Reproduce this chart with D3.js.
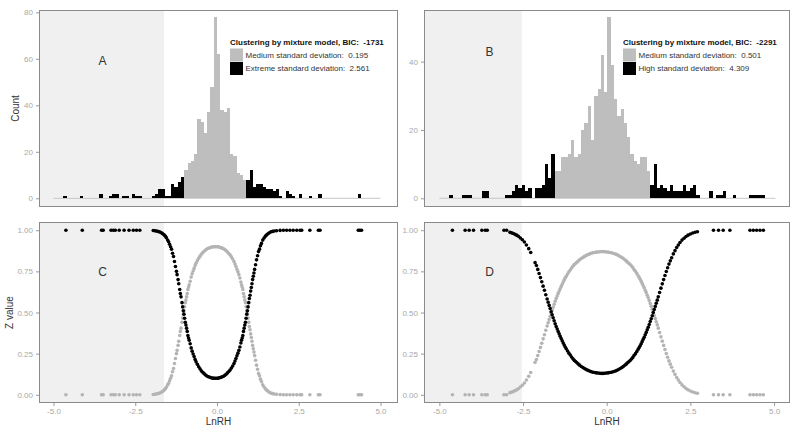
<!DOCTYPE html>
<html><head><meta charset="utf-8">
<script src="https://cdn.jsdelivr.net/npm/d3@7"></script>
<style>
body{margin:0;background:#fff}
svg{display:block}
text{font-family:"Liberation Sans",Arial,Helvetica,sans-serif;white-space:pre}
</style>
</head><body>
<svg id="chart" width="800" height="432"></svg>
<script>
// ---------------- DATA ----------------
// Histogram A (bins of width 0.1 starting at -5.0)
const aBinStart = -5.0, aBinWidth = 0.1;
const aMedium = [
 0,0,0,0,0,0,0,0,0,0, 0,0,0,0,0,0,0,0,0,0, 0,0,0,0,0,0,0,0,0,0, 0,0,0,0,0,0,0,0,0,0,
 12,15,16,19,34,33,28,37,48,78, 62,38,37,39,19,18,11,10,8,0,
 0,0,0,0,0,0,0,0,0,0, 0,0,0,0,0,0,0,0,0,0, 0,0,0,0,0,0,0,0,0,0, 0,0,0,0,0,0,0,0,0,0];
const aExtreme = [
 0,0,0,1,0,0,0,0,1,0, 0,0,0,0,2,0,0,1,2,2, 0,1,1,0,2,1,1,0,0,0, 1,2,4,4,1,1,6,5,7,9,
 0,0,0,0,0,0,0,0,0,0, 0,0,0,0,0,0,0,0,0,8,
 12,5,6,6,5,4,4,3,4,1, 0,3,2,1,0,2,0,0,1,0, 0,2,0,0,0,0,0,0,0,0, 0,0,0,2,0,0,0,0,0,0];
// Histogram B
const bBinStart = -4.998, bBinWidth = 0.0984;
const bMedium = [
 0,0,0,0,0,0,0,0,0,0, 0,0,0,0,0,0,0,0,0,0, 0,0,0,0,0,0,0,0,0,0, 0,0,0,0,0,
 8,8,12,12,13,17,12,13,20,22,27,17,30,32,42,31,53,39,29,24,26,22,18,13,11,10,12,12,8,
 0,0,0,0,0,0,0,0,0,0, 0,0,0,0,0,0,0,0,0,0, 0,0,0,0,0,0,0,0,0,0, 0,0,0,0,0,0,0,0];
const bHigh = [
 0,0,0,1,0,0,0,1,1,1, 0,0,0,2,2,0,0,0,0,0, 1,1,2,4,3,4,2,3,0,3, 3,4,10,6,13,
 0,0,0,0,0,0,0,0,0,0,0,0,0,0,0,0,0,0,0,0,0,0,0,0,0,0,0,0,0,
 4,10,3,4,3,2,4,2,2,2, 4,2,3,4,1,0,0,0, 2,0,1,1,2,0,0,1, 0,0,0,0,1,1,1,1,1,0, 0,0];

// Z values, panel C: [LnRH, z extreme, z medium]
const cPoints = [
[-4.62,1,0],[-4.12,1,0],[-3.53,1,0],[-3.48,1,0],[-3.24,1,0],[-3.17,1,0],[-3.11,1,0],[-2.99,1,0],[-2.84,1,0],[-2.69,1,0],[-2.56,1,0],[-2.46,1,0],[-2.36,1,0],
[-1.95,.998,.002],[-1.90,.997,.003],[-1.86,.995,.005],[-1.81,.993,.007],[-1.77,.991,.009],[-1.73,.988,.012],[-1.69,.983,.017],[-1.66,.979,.021],[-1.62,.972,.028],[-1.58,.964,.036],[-1.55,.955,.045],[-1.51,.94,.06],[-1.48,.93,.07],[-1.45,.915,.085],[-1.42,.90,.10],[-1.39,.885,.115],[-1.36,.86,.14],[-1.33,.84,.16],[-1.30,.81,.19],[-1.27,.78,.22],[-1.24,.75,.25],[-1.22,.73,.27],[-1.19,.70,.30],[-1.17,.675,.325],[-1.14,.64,.36],[-1.12,.615,.385],[-1.10,.595,.405],[-1.07,.56,.44],[-1.05,.534,.466],[-1.03,.51,.49],[-1.01,.49,.51],[-0.99,.465,.535],[-0.97,.44,.56],[-0.95,.424,.576],[-0.93,.405,.595],[-0.91,.385,.615],[-0.89,.36,.64],[-0.87,.345,.655],[-0.85,.331,.669],[-0.82,.31,.69],[-0.79,.285,.715],[-0.76,.265,.735],[-0.73,.248,.752],[-0.70,.232,.768],[-0.67,.215,.785],[-0.64,.20,.80],[-0.60,.185,.815],[-0.56,.17,.83],[-0.52,.158,.842],[-0.48,.146,.854],[-0.44,.137,.863],[-0.40,.13,.87],[-0.36,.122,.878],[-0.32,.116,.884],[-0.28,.111,.889],[-0.24,.108,.892],[-0.20,.105,.895],[-0.16,.102,.898],[-0.12,.101,.899],[-0.08,.10,.90],[-0.04,.10,.90],[0.00,.10,.90],[0.04,.101,.899],[0.08,.103,.897],[0.12,.106,.894],[0.16,.109,.891],[0.20,.113,.887],[0.24,.118,.882],[0.28,.125,.875],[0.32,.133,.867],[0.36,.141,.859],[0.40,.15,.85],[0.44,.162,.838],[0.48,.175,.825],[0.52,.19,.81],[0.55,.205,.795],[0.58,.22,.78],[0.61,.237,.763],[0.64,.253,.747],[0.67,.27,.73],[0.70,.29,.71],[0.73,.315,.685],[0.75,.331,.669],[0.77,.345,.655],[0.79,.36,.64],[0.81,.385,.615],[0.83,.405,.595],[0.85,.424,.576],[0.87,.44,.56],[0.89,.465,.535],[0.91,.49,.51],[0.93,.51,.49],[0.95,.534,.466],[0.97,.56,.44],[0.99,.585,.415],[1.01,.605,.395],[1.03,.63,.37],[1.05,.652,.348],[1.07,.675,.325],[1.09,.70,.30],[1.11,.72,.28],[1.13,.74,.26],[1.15,.762,.238],[1.18,.79,.21],[1.21,.82,.18],[1.24,.845,.155],[1.27,.87,.13],[1.30,.885,.115],[1.33,.905,.095],[1.36,.92,.08],[1.40,.94,.06],[1.44,.953,.047],[1.48,.964,.036],[1.52,.972,.028],[1.56,.979,.021],[1.60,.985,.015],[1.65,.99,.01],[1.70,.993,.007],[1.75,.995,.005],[1.82,.997,.003],[1.93,.999,.001],
[2.03,1,0],[2.13,1,0],[2.23,1,0],[2.33,1,0],[2.44,1,0],[2.54,1,0],[2.59,1,0],[2.84,1,0],[3.10,1,0],[3.15,1,0],[4.32,1,0],[4.37,1,0],[4.42,1,0]];

// Z values, panel D: [LnRH, z high, z medium]
const dPoints = [
[-4.61,1,0],[-4.23,1,0],[-4.11,1,0],[-3.98,1,0],[-3.73,1,0],[-3.63,1,0],[-3.57,1,0],[-3.07,1,0],[-2.99,1,0],
[-2.89,.987,.013],[-2.84,.984,.016],[-2.79,.98,.02],[-2.74,.975,.025],[-2.69,.97,.03],[-2.64,.963,.037],[-2.58,.953,.047],[-2.52,.942,.058],[-2.46,.928,.072],[-2.40,.91,.09],[-2.33,.888,.112],[-2.27,.865,.135],[-2.14,.803,.197],[-2.10,.786,.214],[-2.06,.762,.238],[-2.02,.737,.263],[-1.98,.712,.288],[-1.94,.687,.313],[-1.90,.66,.34],[-1.86,.635,.365],[-1.82,.608,.392],[-1.78,.582,.418],[-1.75,.562,.438],[-1.72,.543,.457],[-1.69,.524,.476],[-1.66,.505,.495],[-1.63,.486,.514],[-1.60,.468,.532],[-1.57,.45,.55],[-1.54,.432,.568],[-1.51,.415,.585],[-1.48,.40,.60],[-1.45,.384,.616],[-1.42,.37,.63],[-1.39,.356,.644],[-1.36,.342,.658],[-1.33,.328,.672],[-1.30,.315,.685],[-1.27,.302,.698],[-1.24,.29,.71],[-1.21,.28,.72],[-1.17,.266,.734],[-1.13,.253,.747],[-1.09,.242,.758],[-1.05,.23,.77],[-1.01,.219,.781],[-0.97,.209,.791],[-0.93,.202,.798],[-0.89,.195,.805],[-0.85,.187,.813],[-0.81,.18,.82],[-0.76,.172,.828],[-0.71,.165,.835],[-0.66,.159,.841],[-0.61,.153,.847],[-0.56,.148,.852],[-0.51,.144,.856],[-0.46,.14,.86],[-0.41,.137,.863],[-0.36,.135,.865],[-0.31,.133,.867],[-0.26,.132,.868],[-0.21,.131,.869],[-0.16,.13,.87],[-0.11,.13,.87],[-0.06,.131,.869],[-0.01,.132,.868],[0.04,.133,.867],[0.09,.135,.865],[0.14,.137,.863],[0.19,.14,.86],[0.24,.143,.857],[0.29,.147,.853],[0.34,.152,.848],[0.39,.158,.842],[0.44,.164,.836],[0.49,.171,.829],[0.54,.179,.821],[0.58,.186,.814],[0.62,.194,.806],[0.66,.201,.799],[0.70,.208,.792],[0.74,.217,.783],[0.78,.227,.773],[0.82,.24,.76],[0.86,.25,.75],[0.90,.263,.737],[0.94,.277,.723],[0.97,.287,.713],[1.00,.298,.702],[1.03,.31,.69],[1.06,.323,.677],[1.09,.337,.663],[1.12,.35,.65],[1.15,.365,.635],[1.18,.379,.621],[1.21,.395,.605],[1.24,.41,.59],[1.27,.427,.573],[1.30,.445,.555],[1.33,.462,.538],[1.36,.48,.52],[1.39,.50,.50],[1.42,.518,.482],[1.45,.537,.463],[1.48,.556,.444],[1.51,.575,.425],[1.54,.595,.405],[1.58,.622,.378],[1.62,.648,.352],[1.66,.674,.326],[1.70,.70,.30],[1.74,.725,.275],[1.78,.749,.251],[1.82,.772,.228],[1.86,.794,.206],[1.90,.814,.186],[1.94,.833,.167],[1.99,.856,.144],[2.04,.876,.124],[2.09,.895,.105],[2.14,.91,.09],[2.19,.925,.075],[2.25,.94,.06],[2.31,.951,.049],[2.37,.962,.038],[2.43,.97,.03],[2.50,.977,.023],[2.57,.983,.017],[2.64,.988,.012],[2.71,.991,.009],
[3.19,1,0],[3.34,1,0],[3.48,1,0],[3.68,1,0],[4.28,1,0],[4.38,1,0],[4.48,1,0],[4.58,1,0],[4.68,1,0]];

const xTicks = [-5, -2.5, 0, 2.5, 5];
const xTickLabels = ["-5.0", "-2.5", "0.0", "2.5", "5.0"];
const aYTicks = [0, 20, 40, 60, 80];
const bYTicks = [0, 20, 40];
const zTicks = [0, 0.25, 0.5, 0.75, 1];
const zTickLabels = ["0.00", "0.25", "0.50", "0.75", "1.00"];
const shadeCutA = -1.62, shadeCutB = -2.54;
const legendA = ["Clustering by mixture model, BIC:  -1731", "Medium standard deviation:  0.195", "Extreme standard deviation:  2.561"];
const legendB = ["Clustering by mixture model, BIC:  -2291", "Medium standard deviation:  0.501", "High standard deviation:  4.309"];
const panelLetters = ["A", "B", "C", "D"];

// ---------------- DRAWING ----------------
const svg = d3.select("#chart");
const COL_GRAY = "#bebebe", COL_BLACK = "#000000", COL_SHADE = "#f0f0f0";
const COL_BORDER = "#8a8a8a", COL_TICKTXT = "#a8a8a8", COL_TITLE = "#333333";

function makePanel(p) {
  const x = d3.scaleLinear().domain(p.xDom).range([p.left, p.right]);
  const y = d3.scaleLinear().domain(p.yDom).range([p.bottom, p.top]);
  const g = svg.append("g");
  g.append("rect").attr("x", p.left).attr("y", p.top)
    .attr("width", x(p.cut) - p.left).attr("height", p.bottom - p.top)
    .attr("fill", COL_SHADE);
  return {x, y, g};
}

function drawFrame(P, p, yTicks, yLabels, showX) {
  const g = P.g;
  const ya = d3.axisLeft(P.y).tickValues(yTicks).tickSize(3).tickPadding(3)
    .tickFormat((d, i) => yLabels ? yLabels[i] : String(d));
  const ay = g.append("g").attr("transform", `translate(${p.left},0)`).call(ya);
  ay.select(".domain").remove();
  ay.selectAll("line").attr("stroke", "#9a9a9a");
  ay.selectAll("text").attr("fill", COL_TICKTXT).style("font-size", "8px");
  if (showX) {
    const xa = d3.axisBottom(P.x).tickValues(xTicks).tickSize(3).tickPadding(2)
      .tickFormat((d, i) => xTickLabels[i]);
    const ax = g.append("g").attr("transform", `translate(0,${p.bottom})`).call(xa);
    ax.select(".domain").remove();
    ax.selectAll("line").attr("stroke", "#9a9a9a");
    ax.selectAll("text").attr("fill", COL_TICKTXT).style("font-size", "8px");
  }
  g.append("rect").attr("x", p.left + 0.5).attr("y", p.top + 0.5)
    .attr("width", p.right - p.left - 1).attr("height", p.bottom - p.top - 1)
    .attr("fill", "none").attr("stroke", COL_BORDER).attr("stroke-width", 1);
}

function drawHist(P, start, width, medium, extreme) {
  const n = medium.length;
  P.g.append("line")
    .attr("x1", P.x(start)).attr("x2", P.x(start + n * width))
    .attr("y1", P.y(0)).attr("y2", P.y(0))
    .attr("stroke", "#c6c6c6").attr("stroke-width", 1);
  const bins = d3.range(n).map(i => ({x0: start + i * width, x1: start + (i + 1) * width, m: medium[i], e: extreme[i]}));
  [["m", COL_GRAY], ["e", COL_BLACK]].forEach(([k, col]) => {
    P.g.append("g").selectAll("rect").data(bins.filter(b => b[k] > 0)).join("rect")
      .attr("x", b => P.x(b.x0)).attr("width", b => P.x(b.x1) - P.x(b.x0))
      .attr("y", b => P.y(b[k])).attr("height", b => P.y(0) - P.y(b[k]))
      .attr("fill", col).attr("shape-rendering", "crispEdges");
  });
}

function drawDots(P, pts) {
  P.g.append("g").selectAll("circle").data(pts).join("circle")
    .attr("cx", d => P.x(d[0])).attr("cy", d => P.y(d[2])).attr("r", 1.8)
    .attr("fill", "#b4b4b4");
  P.g.append("g").selectAll("circle").data(pts).join("circle")
    .attr("cx", d => P.x(d[0])).attr("cy", d => P.y(d[1])).attr("r", 1.8)
    .attr("fill", COL_BLACK);
}

function drawLetter(P, letter, xv, yv) {
  P.g.append("text").attr("x", P.x(xv)).attr("y", P.y(yv)).attr("dy", "0.35em")
    .attr("text-anchor", "middle").attr("fill", COL_TITLE).style("font-size", "12px").text(letter);
}

function drawLegend(g, lx, ty, texts) {
  g.append("text").attr("x", lx).attr("y", ty).attr("fill", "#111")
    .style("font-size", "8px").style("font-weight", "bold").text(texts[0]);
  const cols = [COL_GRAY, COL_BLACK];
  [0, 1].forEach(i => {
    g.append("rect").attr("x", lx).attr("y", ty + 3.5 + i * 13.5)
      .attr("width", 13).attr("height", 13).attr("fill", cols[i]);
    g.append("text").attr("x", lx + 15.5).attr("y", ty + 10 + i * 13.5).attr("dy", "0.35em")
      .attr("fill", "#333").style("font-size", "8px").text(texts[i + 1]);
  });
}

const pA = {left: 39, right: 398, top: 10, bottom: 207, xDom: [-5.443, 5.535], yDom: [-3.74, 81], cut: shadeCutA};
const pB = {left: 424, right: 790, top: 10, bottom: 207, xDom: [-5.459, 5.476], yDom: [-2.55, 55.1], cut: shadeCutB};
const pC = {left: 39, right: 398, top: 222, bottom: 403, xDom: [-5.443, 5.535], yDom: [-0.05, 1.05], cut: shadeCutA};
const pD = {left: 424, right: 790, top: 222, bottom: 403, xDom: [-5.459, 5.476], yDom: [-0.05, 1.05], cut: shadeCutB};

const PA = makePanel(pA);
drawHist(PA, aBinStart, aBinWidth, aMedium, aExtreme);
drawLetter(PA, panelLetters[0], -3.5, 59);
drawLegend(PA.g, 230, 45, legendA);
drawFrame(PA, pA, aYTicks, null, false);

const PB = makePanel(pB);
drawHist(PB, bBinStart, bBinWidth, bMedium, bHigh);
drawLetter(PB, panelLetters[1], -3.5, 43);
drawLegend(PB.g, 623, 45, legendB);
drawFrame(PB, pB, bYTicks, null, false);

const PC = makePanel(pC);
drawDots(PC, cPoints);
drawLetter(PC, panelLetters[2], -3.5, 0.75);
drawFrame(PC, pC, zTicks, zTickLabels, true);

const PD = makePanel(pD);
drawDots(PD, dPoints);
drawLetter(PD, panelLetters[3], -3.5, 0.75);
drawFrame(PD, pD, zTicks, zTickLabels, true);

// Axis titles
svg.append("text").attr("transform", `translate(19,${(pA.top + pA.bottom) / 2}) rotate(-90)`)
  .attr("text-anchor", "middle").attr("fill", COL_TITLE).style("font-size", "10px").text("Count");
svg.append("text").attr("transform", `translate(13,${(pC.top + pC.bottom) / 2}) rotate(-90)`)
  .attr("text-anchor", "middle").attr("fill", COL_TITLE).style("font-size", "10px").text("Z value");
svg.append("text").attr("x", (pC.left + pC.right) / 2).attr("y", 425)
  .attr("text-anchor", "middle").attr("fill", COL_TITLE).style("font-size", "10px").text("LnRH");
svg.append("text").attr("x", (pD.left + pD.right) / 2).attr("y", 425)
  .attr("text-anchor", "middle").attr("fill", COL_TITLE).style("font-size", "10px").text("LnRH");
</script>
</body></html>
